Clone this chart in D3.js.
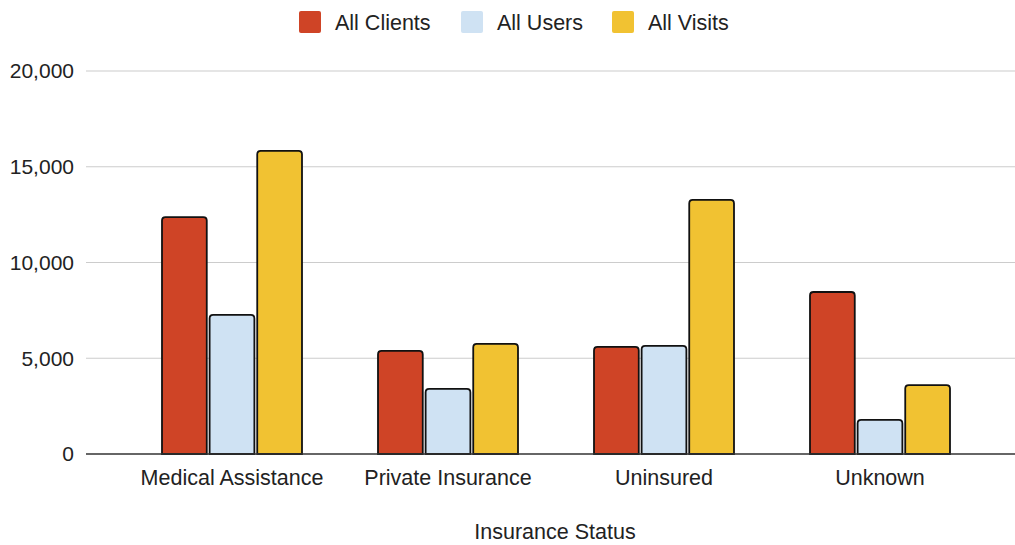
<!DOCTYPE html>
<html><head><meta charset="utf-8">
<script src="https://cdn.jsdelivr.net/npm/d3@7/dist/d3.min.js"></script>
<style>body{margin:0;background:#fff}svg{display:block;font-family:"Liberation Sans",Arial,sans-serif}</style>
</head><body>
<svg id="c" width="1015" height="545"></svg>
<script>
const categories = ["Medical Assistance", "Private Insurance", "Uninsured", "Unknown"];
const seriesNames = ["All Clients", "All Users", "All Visits"];
const allClients = [12370, 5380, 5590, 8460];
const allUsers = [7260, 3400, 5650, 1780];
const allVisits = [15830, 5750, 13270, 3600];
const yTicks = [0, 5000, 10000, 15000, 20000];
const colors = ["#cf4426", "#cfe2f3", "#f1c232"];
const seriesValues = [allClients, allUsers, allVisits];

const svg = d3.select("#c");
const x0 = d3.scaleBand().domain(categories).range([124, 988]);
const x1 = d3.scaleBand().domain(seriesNames).range([0, 140]).paddingInner(0.06);
const y = d3.scaleLinear().domain([0, 20000]).range([454, 71]);

// gridlines
svg.append("g").selectAll("line").data(yTicks.slice(1)).join("line")
  .attr("x1", 86).attr("x2", 1015).attr("y1", d => y(d)).attr("y2", d => y(d))
  .attr("stroke", "#cccccc").attr("stroke-width", 1.2);

// y labels
svg.append("g").selectAll("text").data(yTicks).join("text")
  .attr("x", 74).attr("y", d => y(d)).attr("dy", "0.35em").attr("text-anchor", "end")
  .attr("font-size", 21).attr("fill", "#222").text(d => d3.format(",")(d));

// bars
const groups = svg.append("g").selectAll("g").data(categories).join("g")
  .attr("transform", c => `translate(${x0(c) + (x0.bandwidth() - 140) / 2},0)`);
groups.selectAll("path").data((c, i) => seriesNames.map((s, j) => ({s, j, v: seriesValues[j][i]}))).join("path")
  .attr("d", d => {
    const xa = x1(d.s), w = x1.bandwidth(), yt = y(d.v), yb = y(0), r = 3.5;
    return `M${xa},${yb}V${yt + r}Q${xa},${yt} ${xa + r},${yt}H${xa + w - r}Q${xa + w},${yt} ${xa + w},${yt + r}V${yb}Z`;
  })
  .attr("fill", d => colors[d.j]).attr("stroke", "#111").attr("stroke-width", 1.8);

// baseline
svg.append("line").attr("x1", 86).attr("x2", 1015).attr("y1", y(0)).attr("y2", y(0))
  .attr("stroke", "#333").attr("stroke-width", 1.5);

// x labels
svg.append("g").selectAll("text").data(categories).join("text")
  .attr("x", c => x0(c) + x0.bandwidth() / 2).attr("y", 477).attr("dy", "0.35em")
  .attr("text-anchor", "middle").attr("font-size", 21.5).attr("fill", "#222").text(c => c);

// axis title
svg.append("text").attr("x", 555).attr("y", 531).attr("dy", "0.35em").attr("text-anchor", "middle")
  .attr("font-size", 21.5).attr("fill", "#222").text("Insurance Status");

// legend
const legX = [299, 461, 612];
const leg = svg.append("g").selectAll("g").data(seriesNames).join("g")
  .attr("transform", (d, i) => `translate(${legX[i]},11)`);
leg.append("rect").attr("width", 22).attr("height", 22).attr("rx", 2).attr("fill", (d, i) => colors[i]);
leg.append("text").attr("x", 36).attr("y", 11).attr("dy", "0.35em").attr("font-size", 21.5)
  .attr("fill", "#222").text(d => d);
</script>
</body></html>
